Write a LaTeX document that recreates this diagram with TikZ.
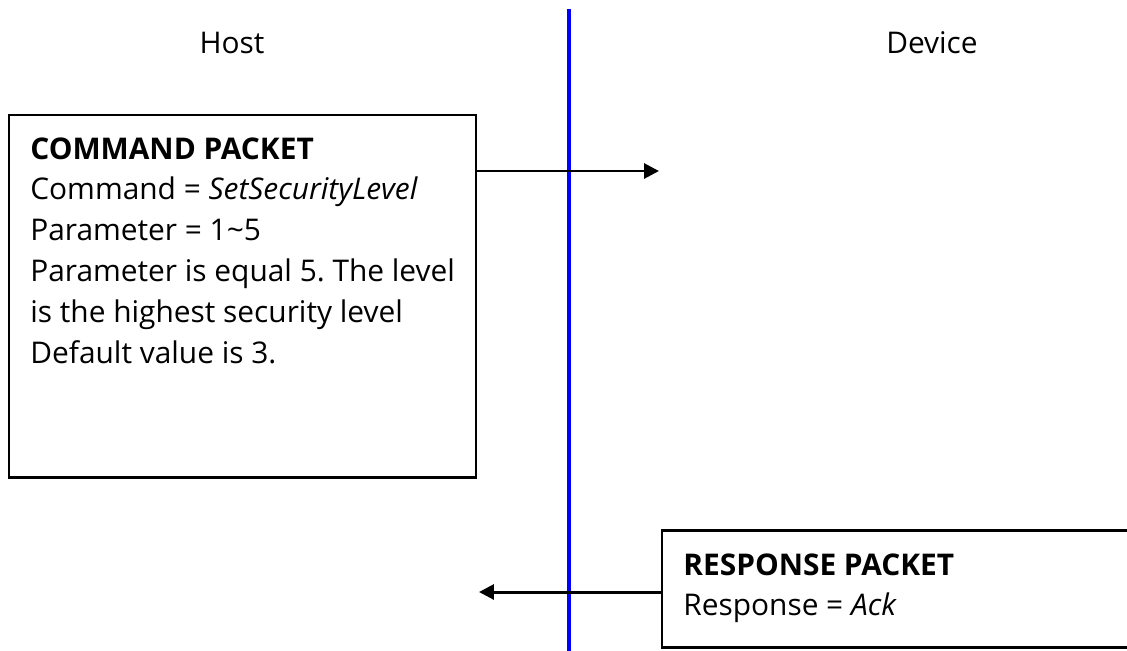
\documentclass[tikz,border=0pt]{standalone}
\usepackage{fontspec}
\setmainfont{Open Sans}
\usetikzlibrary{arrows.meta}
\usetikzlibrary{fit}
\frenchspacing
\tikzset{packet/.style={rectangle, draw, line width=1.7pt, inner sep=0pt}}
\tikzset{msg/.style={line width=1.7pt, -{Triangle[length=8.5pt,width=8.5pt]}}}
\tikzset{txt/.style={
   font=\fontsize{17}{23.3}\selectfont,
   align=left,
   inner sep=0pt
}}

\begin{document}
\begin{tikzpicture}[x=0.02cm, y=-0.02cm]

    \useasboundingbox (0,0) rectangle (1127,650);

    \node[txt, anchor=base] (host)   at (232,53) {Host};
    \node[txt, anchor=base] (device) at (932,53) {Device};

    \coordinate (wire-top) at (569,9);
    \coordinate (wire-bot) at (569,655);
    \draw[blue, line width=2.2pt] (wire-top) -- (wire-bot);

    \coordinate (cmd-nw) at (9,115);
    \coordinate (cmd-se) at (476,477);
    \node[packet, fit=(cmd-nw)(cmd-se)] (cmd) {};
    \node[txt, anchor=north west] (cmd-text) at (30,137)
      {\textbf{COMMAND PACKET}\\
       Command = \textit{SetSecurityLevel}\\
       Parameter = 1\textasciitilde5\\
       Parameter is equal 5. The level\\
       is the highest security level\\
       Default value is 3.};

    \coordinate (rsp-nw) at (662,530);
    \coordinate (rsp-se) at (1140,647);
    \node[packet, fit=(rsp-nw)(rsp-se)] (rsp) {};
    \node[txt, anchor=north west] (rsp-text) at (683,553)
      {\textbf{RESPONSE PACKET}\\
       Response = \textit{Ack}};

    \coordinate (cmd-to) at (659,171);
    \draw[msg] (cmd.east |- cmd-to) -- (cmd-to);
    \coordinate (rsp-to) at (479,592);
    \draw[msg] (rsp.west |- rsp-to) -- (rsp-to);

  \end{tikzpicture}
\end{document}
